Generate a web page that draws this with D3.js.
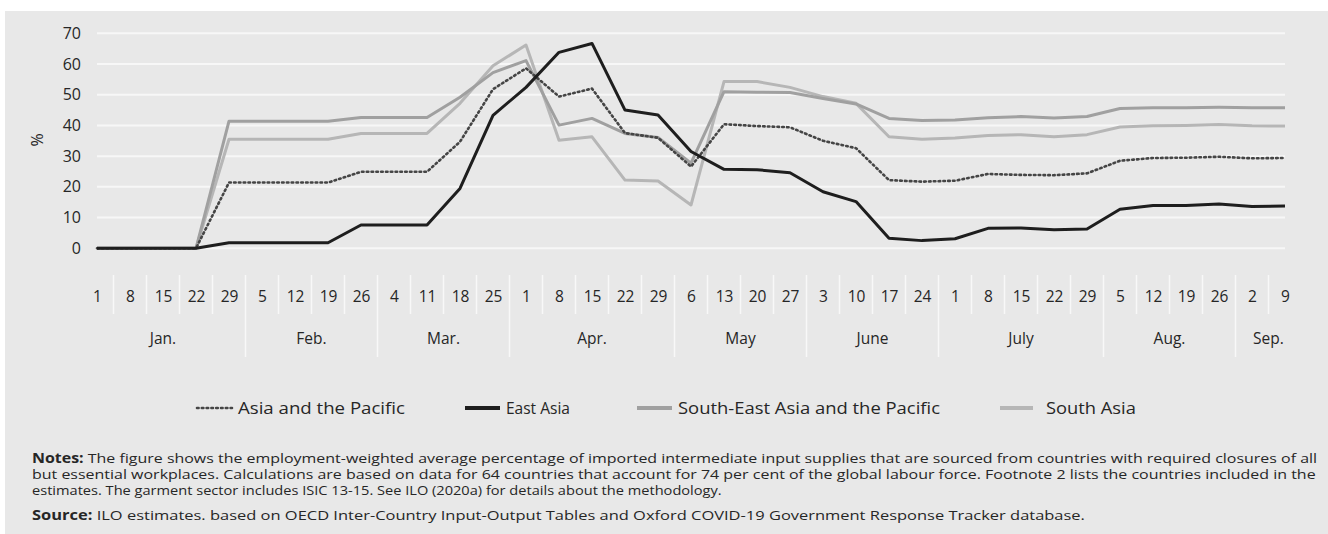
<!DOCTYPE html>
<html>
<head>
<meta charset="utf-8">
<script src="https://cdn.jsdelivr.net/npm/d3@7"></script>
<style>
  html, body { margin: 0; padding: 0; background: #ffffff; }
  svg { display: block; }
  text { font-family: "Open Sans", "Noto Sans", sans-serif; fill: #262626; }
</style>
</head>
<body>
<svg id="chart" width="1328" height="534"></svg>
<script>
// ---- data ----
const weekLabels = ["1","8","15","22","29","5","12","19","26","4","11","18","25","1","8","15","22","29","6","13","20","27","3","10","17","24","1","8","15","22","29","5","12","19","26","2","9"];
const monthLabels = ["Jan.","Feb.","Mar.","Apr.","May","June","July","Aug.","Sep."];
const weeksPerMonth = [5,4,4,5,4,4,5,4,2];
const yTicks = [0,10,20,30,40,50,60,70];

const asiaPacific = [0,0,0,0,21.4,21.4,21.4,21.4,24.9,24.9,24.9,34.7,51.8,58.6,49.4,52.0,37.5,36.0,26.6,40.4,39.8,39.4,35.0,32.6,22.2,21.7,22.0,24.2,23.9,23.8,24.4,28.5,29.4,29.5,29.8,29.3,29.4];
const eastAsia = [0,0,0,0,1.8,1.8,1.8,1.8,7.6,7.6,7.6,19.5,43.3,52.4,63.8,66.7,45.0,43.4,31.5,25.7,25.6,24.6,18.4,15.2,3.3,2.5,3.1,6.5,6.6,6.0,6.3,12.7,13.9,13.9,14.4,13.6,13.8];
const southEastAsia = [0,0,0,0,41.4,41.4,41.4,41.4,42.6,42.6,42.6,49.2,57.2,61.1,40.1,42.3,37.4,36.1,27.7,51.0,50.8,50.7,48.8,47.0,42.3,41.6,41.8,42.5,42.9,42.4,42.9,45.5,45.8,45.8,45.9,45.8,45.8];
const southAsia = [0,0,0,0,35.5,35.5,35.5,35.5,37.4,37.4,37.4,47.2,59.4,66.2,35.2,36.3,22.2,21.9,14.1,54.3,54.3,52.4,49.4,47.2,36.3,35.5,35.9,36.7,37.0,36.3,37.0,39.5,39.9,40.0,40.3,39.9,39.8];

const seriesNames = ["Asia and the Pacific","East Asia","South-East Asia and the Pacific","South Asia"];
const seriesValues = [asiaPacific, eastAsia, southEastAsia, southAsia];

const notesLines = [
  [["Notes:", true], [" The figure shows the employment-weighted average percentage of imported intermediate input supplies that are sourced from countries with required closures of all", false]],
  [["but essential workplaces. Calculations are based on data for 64 countries that account for 74 per cent of the global labour force. Footnote 2 lists the countries included in the", false]],
  [["estimates. The garment sector includes ISIC 13-15. See ILO (2020a) for details about the methodology.", false]],
  [["Source:", true], [" ILO estimates. based on OECD Inter-Country Input-Output Tables and Oxford COVID-19 Government Response Tracker database.", false]]
];

// ---- styles ----
const styles = [
  {color: "#454545", width: 2.6, dash: "1.6 3.2", cap: "round"},
  {color: "#1e1e1e", width: 3, dash: null, cap: "butt"},
  {color: "#a0a0a0", width: 3, dash: null, cap: "butt"},
  {color: "#b6b6b6", width: 3, dash: null, cap: "butt"}
];

const svg = d3.select("#chart");
svg.append("rect").attr("x", 5).attr("y", 11).attr("width", 1323).attr("height", 523).attr("fill", "#e8e8e8");

const idx = d3.range(weekLabels.length);
const x = d3.scalePoint().domain(idx).range([97, 1285]);
const step = x.step();
const y = d3.scaleLinear().domain([0, 70]).range([248.3, 33.3]);

// gridlines
svg.append("g").selectAll("line").data(yTicks).join("line")
  .attr("x1", x(0)).attr("x2", x(idx.length - 1))
  .attr("y1", d => y(d)).attr("y2", d => y(d))
  .attr("stroke", "#f7f7f7").attr("stroke-width", 2);

// y axis
const yAxis = svg.append("g").attr("transform", `translate(${x(0)},0)`)
  .call(d3.axisLeft(y).tickValues(yTicks).tickSize(0).tickPadding(16));
yAxis.select(".domain").remove();
yAxis.selectAll("text").attr("font-size", 16).attr("font-family", "Open Sans, sans-serif").attr("fill", "#262626");

svg.append("text").attr("transform", "translate(43,140) rotate(-90)")
  .attr("text-anchor", "middle").attr("font-size", 16).text("%");

// x axis week labels
const xAxis = svg.append("g").attr("transform", "translate(0,279)")
  .call(d3.axisBottom(x).tickFormat(i => weekLabels[i]).tickSize(0).tickPadding(12));
xAxis.select(".domain").remove();
xAxis.selectAll("text").attr("font-size", 15.5).attr("font-family", "Open Sans, sans-serif").attr("fill", "#262626");

// month separators and labels
let start = 0;
const monthGroups = weeksPerMonth.map((n, k) => { const g = {label: monthLabels[k], first: start, last: start + n - 1}; start += n; return g; });
const sepG = svg.append("g");
idx.slice(1).forEach(i => {
  const isMonth = monthGroups.some(g => g.first === i);
  sepG.append("line")
    .attr("x1", x(i) - step / 2).attr("x2", x(i) - step / 2)
    .attr("y1", 275).attr("y2", isMonth ? 357 : 314)
    .attr("stroke", "#f8f8f8").attr("stroke-width", 1.5);
});
svg.append("g").selectAll("text").data(monthGroups).join("text")
  .attr("x", g => (x(g.first) + x(g.last)) / 2)
  .attr("y", 344).attr("text-anchor", "middle").attr("font-size", 15.5)
  .text(g => g.label);

// lines
const line = d3.line().x((d, i) => x(i)).y(d => y(d));
const drawOrder = [3, 2, 0, 1];
svg.append("g").selectAll("path").data(drawOrder).join("path")
  .attr("d", k => line(seriesValues[k]))
  .attr("fill", "none")
  .attr("stroke", k => styles[k].color)
  .attr("stroke-width", k => styles[k].width)
  .attr("stroke-dasharray", k => styles[k].dash)
  .attr("stroke-linecap", k => styles[k].cap)
  .attr("stroke-linejoin", "round");

// legend
const legendX = [197, 465, 637, 1000];
const legendTextEnd = [405, 570, 940, 1136];
const lg = svg.append("g").selectAll("g").data(idx.slice(0, 4)).join("g")
  .attr("transform", k => `translate(${legendX[k]},408)`);
lg.append("line").attr("x1", 0).attr("x2", k => k === 3 ? 33 : 35).attr("y1", 0).attr("y2", 0)
  .attr("stroke", k => styles[k].color)
  .attr("stroke-width", k => k === 0 ? 2.6 : 4)
  .attr("stroke-dasharray", k => styles[k].dash)
  .attr("stroke-linecap", k => styles[k].cap);
lg.append("text").attr("x", k => k === 3 ? 46 : 41).attr("y", 5.5).attr("font-size", 16)
  .text(k => seriesNames[k])
  .each(function(k) {
    const x0 = k === 3 ? 46 : 41;
    const w = this.getComputedTextLength();
    const target = legendTextEnd[k] - legendX[k] - x0;
    const s = target / w;
    d3.select(this).attr("transform", `translate(${x0},0) scale(${s},1) translate(${-x0},0)`);
  });

// notes
const noteG = svg.append("g");
const noteY = [463, 479, 495, 520];
const noteEnd = [1318, 1316, 722, 1085];
notesLines.forEach((parts, li) => {
  const t = noteG.append("text").attr("x", 32).attr("y", noteY[li]).attr("font-size", 13.4);
  parts.forEach(([s, b]) => t.append("tspan").attr("font-weight", b ? 700 : 400).text(s));
  const w = t.node().getComputedTextLength();
  const s = (noteEnd[li] - 32) / w;
  t.attr("transform", `translate(32,0) scale(${s},1) translate(-32,0)`);
});
</script>
</body>
</html>
